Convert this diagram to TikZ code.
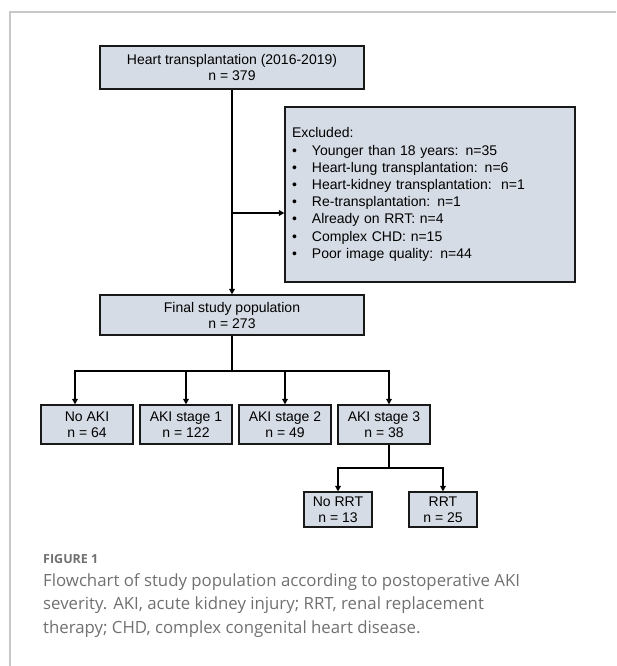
\documentclass[tikz,border=0pt]{standalone}
\usepackage{fontspec}
\setmainfont{Liberation Sans}
\newfontfamily\capfont{Open Sans}
\usetikzlibrary{arrows.meta}
\definecolor{boxfill}{HTML}{D6DCE5}
\definecolor{framegray}{HTML}{C8C8C8}
\definecolor{capgray}{HTML}{707070}
\begin{document}
\begin{tikzpicture}[x=1pt,y=-1pt,
  box/.style={draw=black!90, line width=1.1pt, fill=boxfill, inner sep=0pt, align=center,
    font=\fontsize{14}{16}\selectfont},
  conn/.style={line width=2pt, black},
  arr/.style={conn, -{Triangle[length=5.5pt,width=5.5pt]}},
]
\useasboundingbox (0,0) rectangle (616,666);
% frame
\draw[framegray, line width=1.3pt] (10,666) -- (10,12) -- (616,12);

% boxes
\node[box, minimum width=264pt, minimum height=43pt] (top) at (232,67.5)
  {Heart transplantation (2016-2019)\\n = 379};
\node[box, minimum width=290pt, minimum height=175pt, align=left, text width=276pt,
  font=\fontsize{14}{17.2}\selectfont] (excl) at (430,194.5)
  {Excluded:\\
   \makebox[20pt][l]{\textbullet}Younger than 18 years: n=35\\
   \makebox[20pt][l]{\textbullet}Heart-lung transplantation: n=6\\
   \makebox[20pt][l]{\textbullet}Heart-kidney transplantation:\ \ n=1\\
   \makebox[20pt][l]{\textbullet}Re-transplantation: n=1\\
   \makebox[20pt][l]{\textbullet}Already on RRT: n=4\\
   \makebox[20pt][l]{\textbullet}Complex CHD: n=15\\
   \makebox[20pt][l]{\textbullet}Poor image quality: n=44};
\node[box, minimum width=264pt, minimum height=40pt] (final) at (232,315)
  {Final study population\\n = 273};
\node[box, minimum width=92pt, minimum height=39pt] (a0) at (87,424.5) {No AKI\\n = 64};
\node[box, minimum width=92pt, minimum height=39pt] (a1) at (186,424.5) {AKI stage 1\\n = 122};
\node[box, minimum width=92pt, minimum height=39pt] (a2) at (285,424.5) {AKI stage 2\\n = 49};
\node[box, minimum width=92pt, minimum height=39pt] (a3) at (384,424.5) {AKI stage 3\\n = 38};
\node[box, minimum width=68pt, minimum height=35pt] (r0) at (338,509.5) {No RRT\\n = 13};
\node[box, minimum width=68pt, minimum height=35pt] (r1) at (443,509.5) {RRT\\n = 25};

% connectors
\draw[arr] (top) -- (final);
\coordinate (j1) at (232,213);
\draw[arr] (j1) -- (j1 -| excl.west);
\coordinate (bar) at (232,371);
\draw[conn] (final) -- (bar);
\draw[arr] (bar) -| ([xshift=-12pt]a0.north);
\draw[arr] (bar) -| (a1.north);
\draw[arr] (bar) -| (a2.north);
\draw[arr] (bar) -| ([xshift=5pt]a3.north);
\coordinate (bar2) at (389,468);
\draw[conn] ([xshift=5pt]a3.south) -- (bar2);
\draw[arr] (bar2) -| (r0.north);
\draw[arr] (bar2) -| (r1.north);

% caption
\node[anchor=base west, inner sep=0pt, text=capgray,
  font=\capfont\bfseries\fontsize{12.5}{15}\selectfont] (figlabel) at (43,563.5) {FIGURE 1};
\node[anchor=north west, align=left, inner sep=0pt, text=capgray,
  font=\capfont\fontsize{16.8}{23.5}\selectfont] (caption) at (43,573)
  {Flowchart of study population according to postoperative AKI\\
   severity. AKI, acute kidney injury; RRT, renal replacement\\
   therapy; CHD, complex congenital heart disease.};
\end{tikzpicture}
\end{document}
